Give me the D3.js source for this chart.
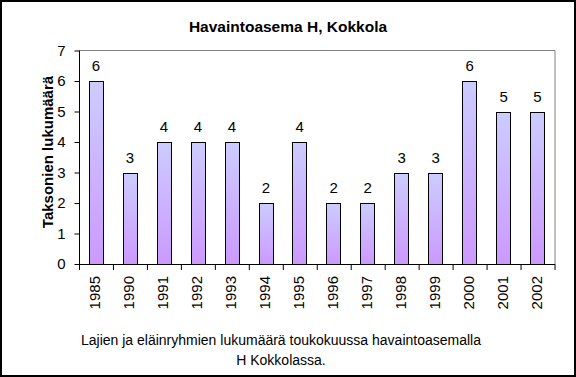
<!DOCTYPE html>
<html><head><meta charset="utf-8">
<script src="https://cdn.jsdelivr.net/npm/d3@7"></script>
<style>
html,body{margin:0;padding:0;background:#fff;}
svg{display:block;}
text{font-family:Arial,"Liberation Sans",sans-serif;fill:#000;}
</style></head>
<body>
<svg id="chart" width="576" height="377"></svg>
<script>
const years = ["1985","1990","1991","1992","1993","1994","1995","1996","1997","1998","1999","2000","2001","2002"];
const counts = [6,3,4,4,4,2,4,2,2,3,3,6,5,5];
const yTicks = [0,1,2,3,4,5,6,7];
const title = "Havaintoasema H, Kokkola";
const yTitle = "Taksonien lukumäärä";
const caption = ["Lajien ja eläinryhmien lukumäärä toukokuussa havaintoasemalla","H Kokkolassa."];

const svg = d3.select("#chart");
const W = 576, H = 377;
const plot = {left:79.5, right:555, top:50.5, bottom:264};

// outer border
svg.append("rect").attr("x",1).attr("y",1).attr("width",W-2).attr("height",H-2)
  .attr("fill","#fff").attr("stroke","#000").attr("stroke-width",2);

const defs = svg.append("defs");
const grad = defs.append("linearGradient").attr("id","barGrad")
  .attr("x1",0).attr("y1",0).attr("x2",0).attr("y2",1);
grad.append("stop").attr("offset","0%").attr("stop-color","#ccccff");
grad.append("stop").attr("offset","100%").attr("stop-color","#cc99ff");

const x = d3.scaleBand().domain(years).range([plot.left, plot.right]).paddingInner(0).paddingOuter(0);
const y = d3.scaleLinear().domain([0,7]).range([plot.bottom, plot.top]);

// plot area border (gray top/right)
svg.append("path")
  .attr("d",`M${plot.left},${plot.top}H${plot.right}V${plot.bottom}`)
  .attr("fill","none").attr("stroke","#808080").attr("stroke-width",1);

// bars
const bw = x.bandwidth()/2.5;
svg.append("g").selectAll("rect").data(counts).join("rect")
  .attr("x",(d,i)=>Math.round(x(years[i]) + x.bandwidth()/2 - bw/2 - 1)+0.5)
  .attr("y",d=>Math.round(y(d))+0.5)
  .attr("width",Math.round(bw))
  .attr("height",d=>Math.round(y(0))-Math.round(y(d)))
  .attr("fill","url(#barGrad)")
  .attr("stroke","#000").attr("stroke-width",1);

// value labels
svg.append("g").selectAll("text").data(counts).join("text")
  .attr("x",(d,i)=>x(years[i]) + x.bandwidth()/2 - 0.5)
  .attr("y",d=>y(d)-10)
  .attr("text-anchor","middle")
  .attr("font-size","15px")
  .text(d=>d);

// y axis
const yAxis = d3.axisLeft(y).tickValues(yTicks).tickSize(5).tickPadding(9).tickFormat(d3.format("d"));
const gy = svg.append("g").attr("transform",`translate(${plot.left},0)`).call(yAxis);
gy.select(".domain").attr("stroke","#000").attr("d",`M0,${plot.top}V${plot.bottom}`);
gy.selectAll(".tick line").attr("stroke","#000");
gy.selectAll(".tick text").attr("font-size","15px").attr("font-family","Arial, 'Liberation Sans', sans-serif").attr("fill","#000");

// x axis
const xAxis = d3.axisBottom(x).tickSize(0).tickPadding(0);
const gx = svg.append("g").attr("transform",`translate(0,${plot.bottom})`).call(xAxis);
gx.select(".domain").attr("stroke","#000").attr("d",`M${plot.left},0.5H${plot.right}`);
// boundary ticks
const bounds = years.map(d=>x(d)).concat([plot.right]);
gx.selectAll(".bt").data(bounds).join("line").attr("class","bt")
  .attr("x1",d=>d).attr("x2",d=>d).attr("y1",0).attr("y2",6)
  .attr("stroke","#000");
gx.selectAll(".tick text")
  .attr("font-size","15px").attr("font-family","Arial, 'Liberation Sans', sans-serif").attr("fill","#000")
  .attr("text-anchor","end").attr("dy",null)
  .attr("transform","translate(4,12) rotate(-90)")
  .attr("x",0).attr("y",0);

// title
svg.append("text").attr("x",288).attr("y",32).attr("text-anchor","middle")
  .attr("font-size","15.5px").attr("font-weight","bold").text(title);

// y title
svg.append("text").attr("transform","translate(53,152) rotate(-90)")
  .attr("text-anchor","middle").attr("font-size","15px").attr("font-weight","bold").text(yTitle);

// caption
svg.append("g").selectAll("text").data(caption).join("text")
  .attr("x",281).attr("y",(d,i)=>345+i*20).attr("text-anchor","middle")
  .attr("font-size","14px").text(d=>d);
</script>
</body></html>
